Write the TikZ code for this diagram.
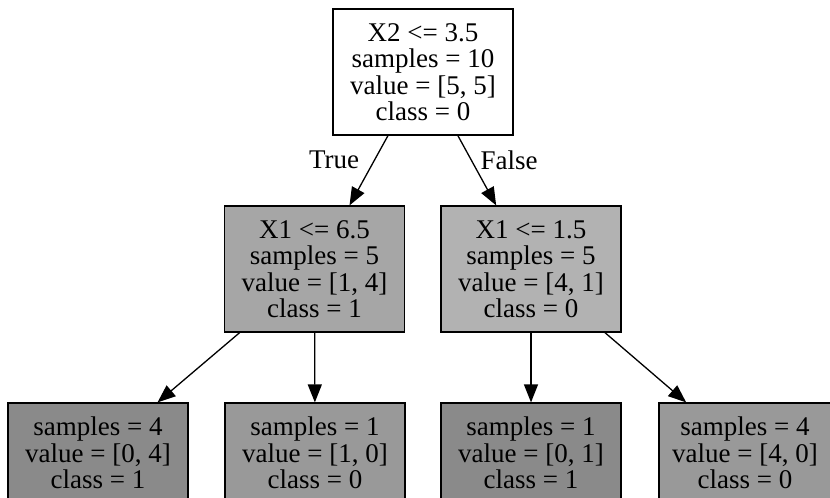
\documentclass[tikz,border=0pt]{standalone}
\usepackage{fontspec}
\setmainfont{Liberation Serif}
\usetikzlibrary{arrows.meta}
\definecolor{graysplitl}{gray}{0.65}
\definecolor{graysplitr}{gray}{0.70}
\definecolor{grayleafa}{gray}{0.54}
\definecolor{grayleafb}{gray}{0.60}
\tikzset{
  treebox/.style={draw=black, line width=0.6pt, rectangle, align=center,
    minimum width=90pt, inner sep=0pt,
    font=\fontsize{13.5}{13.25}\selectfont},
  split/.style={treebox, minimum height=63pt},
  leaf/.style={treebox, minimum height=50pt},
  branch/.style={line width=0.65pt, -{Triangle[length=9pt, width=7pt]}}
}
\begin{document}
\begin{tikzpicture}[x=0.5pt, y=-0.5pt]
  \useasboundingbox (0,0) rectangle (830,498);
  % root and first split
  \node[split, fill=white] (root) at (423,72)
    {X2 <= 3.5\\samples = 10\\value = [5, 5]\\class = 0};
  \node[split, fill=graysplitl] (lt) at (314.5,269)
    {X1 <= 6.5\\samples = 5\\value = [1, 4]\\class = 1};
  \node[split, fill=graysplitr] (rt) at (531,269)
    {X1 <= 1.5\\samples = 5\\value = [4, 1]\\class = 0};
  % leaves
  \node[leaf, fill=grayleafa] (ll) at (98,453)
    {samples = 4\\value = [0, 4]\\class = 1};
  \node[leaf, fill=grayleafb] (lr) at (315,453)
    {samples = 1\\value = [1, 0]\\class = 0};
  \node[leaf, fill=grayleafa] (rl) at (531,453)
    {samples = 1\\value = [0, 1]\\class = 1};
  \node[leaf, fill=grayleafb, minimum width=86pt] (rr) at (745,453)
    {samples = 4\\value = [4, 0]\\class = 0};
  \draw[branch] (root) -- node[pos=0.35, left=4pt, font=\fontsize{13.5}{13.25}\selectfont] {True} (lt);
  \draw[branch] (root) -- node[pos=0.35, right=1pt, font=\fontsize{13.5}{13.25}\selectfont] {False} (rt);
  \draw[branch] (lt) -- (ll);
  \draw[branch] (lt) -- (lr);
  \draw[branch] (rt) -- (rl);
  \draw[branch] (rt) -- (rr);
\end{tikzpicture}
\end{document}
